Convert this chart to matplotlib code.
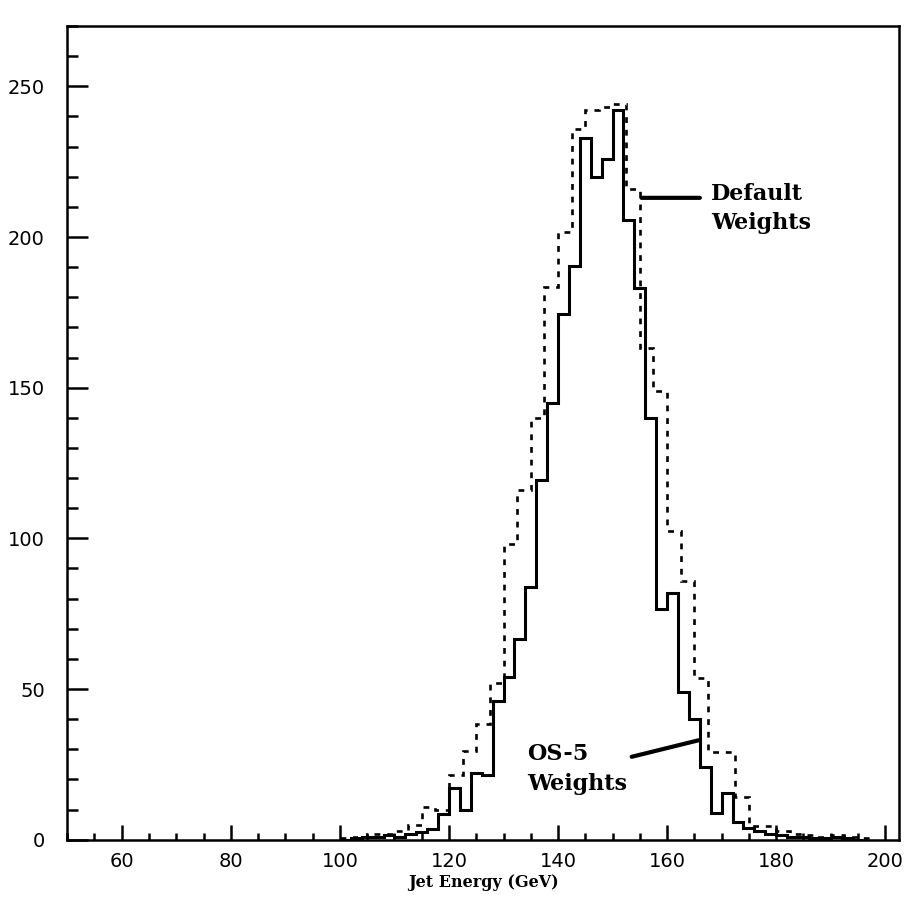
import matplotlib
matplotlib.use("Agg")
import matplotlib.pyplot as plt
import numpy as np
from matplotlib.ticker import MultipleLocator

# ---- data ----
os5_edges = np.arange(100, 196.1, 2.0)          # 2 GeV bins (solid, OS-5 weights)
os5_counts = [0, 0.5, 1, 1, 1.5, 1, 2, 2.5, 3.5, 8.5,
              17, 10, 22, 21.5, 46, 54, 66.5, 84, 119.5, 145,
              174.5, 190.5, 233, 220, 226, 242, 205.5, 183, 140, 76.5,
              82, 49, 40, 24, 9, 15.5, 6, 4, 3, 2,
              1.5, 1, 1, 0.5, 0.5, 1, 0.5, 0]

default_edges = np.arange(100, 197.6, 2.5)      # 2.5 GeV bins (dashed, default weights)
default_counts = [0.5, 1, 2, 2, 3, 5, 11, 10,
                  21.5, 29.5, 38.5, 52, 98, 116, 140, 183.5,
                  201.5, 236, 242, 243, 244, 216, 163, 149,
                  102.5, 86, 53.5, 29, 29, 14, 4.5, 4.5,
                  3, 2, 1.5, 1, 1.5, 1, 0.5]

x_major = [60, 80, 100, 120, 140, 160, 180, 200]
y_major = [0, 50, 100, 150, 200, 250]
x_label = "Jet Energy (GeV)"
label_default = "Default\nWeights"
label_os5 = "OS-5\nWeights"

# ---- figure ----
fig = plt.figure(figsize=(9.08, 8.99), dpi=100)
ax = fig.add_axes([0.074, 0.066, 0.916, 0.905])

ax.stairs(os5_counts, os5_edges, color="black", lw=2.2, baseline=None)
ax.stairs(default_counts, default_edges, color="black", lw=1.9,
          linestyle=(0, (2.2, 2.6)), baseline=None)

ax.set_xlim(50, 202.5)
ax.set_ylim(0, 270)

ax.set_xticks(x_major)
ax.set_yticks(y_major)
ax.xaxis.set_minor_locator(MultipleLocator(5))
ax.yaxis.set_minor_locator(MultipleLocator(10))
ax.tick_params(axis="both", which="both", direction="in", width=1.8,
               top=False, right=False)
ax.tick_params(axis="x", which="major", length=11, pad=9, labelsize=14)
ax.tick_params(axis="x", which="minor", length=5)
ax.tick_params(axis="y", which="major", length=15, pad=16, labelsize=14)
ax.tick_params(axis="y", which="minor", length=8)
for s in ax.spines.values():
    s.set_linewidth(1.8)

ax.set_xlabel(x_label, fontsize=11.5, fontweight="bold", family="DejaVu Serif",
              labelpad=2)

# annotations
ax.text(168, 209.5, label_default, fontsize=16, fontweight="bold",
        family="DejaVu Serif", ha="left", va="center", linespacing=1.45)
ax.annotate("", xy=(155.3, 213), xytext=(166, 213),
            arrowprops=dict(arrowstyle="-", lw=3, color="black",
                            shrinkA=0, shrinkB=0))
ax.text(134.3, 23.5, label_os5, fontsize=16, fontweight="bold",
        family="DejaVu Serif", ha="left", va="center", linespacing=1.45)
ax.annotate("", xy=(165.8, 33), xytext=(153.5, 27.5),
            arrowprops=dict(arrowstyle="-", lw=3, color="black",
                            shrinkA=0, shrinkB=0))

fig.savefig("out.png", dpi=100)
